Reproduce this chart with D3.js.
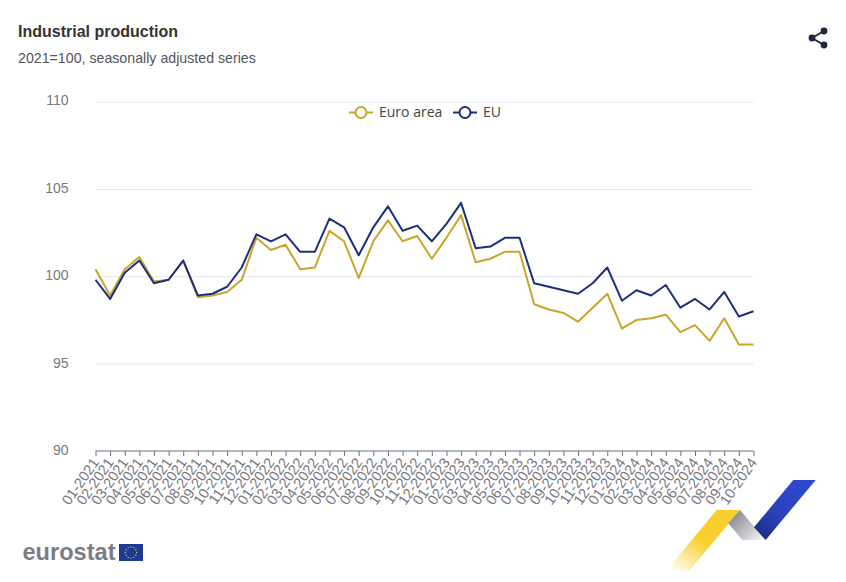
<!DOCTYPE html>
<html>
<head>
<meta charset="utf-8">
<script src="https://cdn.jsdelivr.net/npm/d3@7"></script>
<style>
  html, body { margin: 0; padding: 0; background: #fff; }
  svg { display: block; font-family: "Liberation Sans", Arial, sans-serif; }
</style>
</head>
<body>
<div id="chart"></div>
<script>
/* data */
const months = [
  "01-2021","02-2021","03-2021","04-2021","05-2021","06-2021","07-2021","08-2021","09-2021","10-2021","11-2021","12-2021",
  "01-2022","02-2022","03-2022","04-2022","05-2022","06-2022","07-2022","08-2022","09-2022","10-2022","11-2022","12-2022",
  "01-2023","02-2023","03-2023","04-2023","05-2023","06-2023","07-2023","08-2023","09-2023","10-2023","11-2023","12-2023",
  "01-2024","02-2024","03-2024","04-2024","05-2024","06-2024","07-2024","08-2024","09-2024","10-2024"
];
const euroArea = [
  100.4,98.9,100.4,101.1,99.7,99.8,100.9,98.8,98.9,99.1,99.8,102.2,
  101.5,101.8,100.4,100.5,102.6,102.0,99.9,102.0,103.2,102.0,102.3,101.0,
  102.2,103.5,100.8,101.0,101.4,101.4,98.4,98.1,97.9,97.4,98.2,99.0,
  97.0,97.5,97.6,97.8,96.8,97.2,96.3,97.6,96.1,96.1
];
const eu = [
  99.8,98.7,100.2,100.9,99.6,99.8,100.9,98.9,99.0,99.4,100.5,102.4,
  102.0,102.4,101.4,101.4,103.3,102.8,101.2,102.8,104.0,102.6,102.9,102.0,
  103.0,104.2,101.6,101.7,102.2,102.2,99.6,99.4,99.2,99.0,99.6,100.5,
  98.6,99.2,98.9,99.5,98.2,98.7,98.1,99.1,97.7,98.0
];
const yTicks = [90, 95, 100, 105, 110];
const seriesNames = ["Euro area", "EU"];

/* layout */
const width = 846, height = 582;
const plot = { left: 95.5, right: 753.5, top: 101.5, bottom: 451 };
const colors = { "Euro area": "#c9a52b", "EU": "#1c2f7d" };
const grey = "#77787f";

const svg = d3.select("#chart").append("svg")
  .attr("width", width)
  .attr("height", height);

/* scales */
const xScale = d3.scalePoint().domain(months).range([plot.left, plot.right]);
const yScale = d3.scaleLinear().domain([90, 110]).range([plot.bottom, plot.top]);

/* titles */
svg.append("text").attr("x", 18).attr("y", 37)
  .attr("font-size", 16).attr("font-weight", "bold").attr("fill", "#333")
  .text("Industrial production");
svg.append("text").attr("x", 18).attr("y", 63)
  .attr("font-size", 14.2).attr("fill", "#55565c")
  .text("2021=100, seasonally adjusted series");

/* y axis + gridlines */
const yAxis = svg.append("g")
  .attr("transform", `translate(${plot.left},0)`)
  .call(d3.axisLeft(yScale).tickValues(yTicks).tickSize(0).tickPadding(27));
yAxis.select(".domain").remove();
yAxis.selectAll("text")
  .attr("font-size", 14).attr("font-family", "Liberation Sans").attr("fill", grey)
  .attr("y", -1);
yAxis.selectAll(".tick").filter(d => d !== 90).append("line")
  .attr("x2", plot.right - plot.left)
  .attr("stroke", "#e4e5f1").attr("stroke-width", 1);

/* x axis */
const xAxis = svg.append("g")
  .attr("transform", `translate(0,${plot.bottom})`)
  .call(d3.axisBottom(xScale).tickSize(5).tickPadding(3).tickSizeOuter(0));
xAxis.select(".domain").attr("stroke", "#6f7076").attr("stroke-width", 1.2).attr("d", `M${plot.left},0H${plot.right}`);
xAxis.selectAll("line").attr("stroke", "#6f7076");
xAxis.selectAll("text")
  .attr("font-size", 14.5).attr("font-family", "Liberation Sans").attr("fill", grey)
  .attr("text-anchor", "end")
  .attr("dy", "0.35em")
  .attr("transform", "translate(-7,4) rotate(-55)");

/* lines */
const line = d3.line().x((d, i) => xScale(months[i])).y(d => yScale(d));
[["Euro area", euroArea], ["EU", eu]].forEach(([name, values]) => {
  svg.append("path")
    .datum(values)
    .attr("fill", "none")
    .attr("stroke", colors[name])
    .attr("stroke-width", 2)
    .attr("stroke-linejoin", "round")
    .attr("d", line);
});

/* legend */
const legendX = [349, 453];
const legend = svg.append("g").attr("transform", "translate(0,112.5)");
seriesNames.forEach((name, i) => {
  const g = legend.append("g").attr("transform", `translate(${legendX[i]},0)`);
  g.append("line").attr("x1", 0).attr("x2", 24).attr("stroke", colors[name]).attr("stroke-width", 2);
  g.append("circle").attr("cx", 12).attr("r", 5.5)
    .attr("fill", "#fff").attr("stroke", colors[name]).attr("stroke-width", 2);
  g.append("text").attr("x", 30).attr("dy", "0.32em")
    .attr("font-family", "Open Sans").attr("font-size", 14).attr("fill", "#444")
    .text(name);
});

/* share icon */
const share = svg.append("g").attr("fill", "#22263a").attr("stroke", "#22263a");
const shareNodes = [[812, 38], [824, 31], [824, 45]];
share.append("path").attr("fill", "none").attr("stroke-width", 2)
  .attr("d", `M${shareNodes[1]}L${shareNodes[0]}L${shareNodes[2]}`);
share.selectAll("circle").data(shareNodes).join("circle")
  .attr("cx", d => d[0]).attr("cy", d => d[1]).attr("r", 3.4).attr("stroke", "none");

/* eurostat logo */
svg.append("text").attr("x", 22.5).attr("y", 560)
  .attr("font-size", 23.5).attr("font-weight", "bold").attr("fill", "#7b7d86")
  .attr("textLength", 93).attr("lengthAdjust", "spacingAndGlyphs")
  .text("eurostat");
svg.append("rect").attr("x", 119).attr("y", 544).attr("width", 24).attr("height", 17).attr("fill", "#1f3a93");
const stars = d3.range(12).map(i => i * Math.PI / 6);
svg.append("g").selectAll("circle").data(stars).join("circle")
  .attr("cx", d => 131 + 5.6 * Math.cos(d))
  .attr("cy", d => 552.5 + 5.6 * Math.sin(d))
  .attr("r", 0.7).attr("fill", "#e6c840");

/* ribbon decoration */
const defs = svg.append("defs");
function gradient(id, x1, y1, x2, y2, stops) {
  const g = defs.append("linearGradient").attr("id", id).attr("gradientUnits", "userSpaceOnUse")
    .attr("x1", x1).attr("y1", y1).attr("x2", x2).attr("y2", y2);
  stops.forEach(s => g.append("stop").attr("offset", s[0]).attr("stop-color", s[1]));
}
gradient("ribY", 672, 571, 712, 520, [[0, "#ffffff"], [0.65, "#f9d02f"], [1, "#f9cd2e"]]);
gradient("ribG", 735, 516, 760, 540, [[0, "#8f9196"], [1, "#f0f0f2"]]);
gradient("ribB", 760, 535, 800, 490, [[0, "#1c2d86"], [0.4, "#2a40b8"], [1, "#2d47cf"]]);
const ribbons = [
  ["url(#ribY)", "716.7,510 740,510 689.3,570.7 666,570.7"],
  ["url(#ribG)", "740,510 765.7,540 742.3,540 728.3,523.3"],
  ["url(#ribB)", "793.3,480 815.7,480 765.7,540 754,527.3"]
];
svg.append("g").selectAll("polygon").data(ribbons).join("polygon")
  .attr("fill", d => d[0]).attr("points", d => d[1]);
</script>
</body>
</html>
